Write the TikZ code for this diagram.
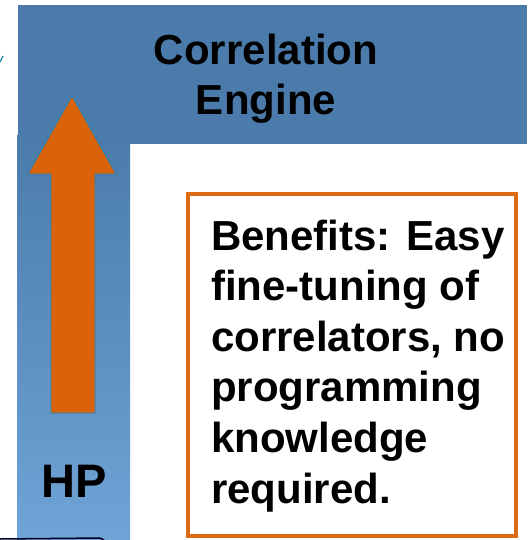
\documentclass[tikz,border=0pt]{standalone}
\usepackage{fontspec}
\setmainfont{Liberation Sans}
\begin{document}
\begin{tikzpicture}[x=1pt,y=-1pt,
  blk/.style={font=\bfseries, text=black, inner sep=0pt},
  arrowfill/.style={fill=arrorange, draw=arrowedge, line width=0.8pt},
]
\definecolor{topblue}{HTML}{4A7BAB}
\definecolor{botblue}{HTML}{6FA4D6}
\definecolor{arrorange}{HTML}{D9620A}
\definecolor{arrowedge}{HTML}{1F86B8}
\definecolor{boxorange}{HTML}{DC6A14}
\useasboundingbox (0,0) rectangle (527,540);
% left column with gradient
\shade[top color=topblue, bottom color=botblue] (17,136) rectangle (130,540);
% top bar
\fill[topblue] (18,5) rectangle (527,144);
% small tick at left
\draw[arrowedge, line width=1.2pt] (0,62) -- (3,56);
% bottom dark line
\draw[black!85!blue, line width=1.5pt] (0,539) -- (50,538.5) -- (100,538) -- (104,540);
% arrow
\draw[arrowfill] (51,413) -- (51,174) -- (28,174) -- (72,96) -- (116,174) -- (95,174) -- (95,413) -- cycle;
% title (anchor base = baseline of last line)
\node[blk, align=center, anchor=base, font=\bfseries\fontsize{42}{50}\selectfont] (title) at (266,115) {Correlation\\Engine};
% HP
\node[blk, anchor=base, font=\bfseries\fontsize{47}{50}\selectfont] (hp) at (74,497) {HP};
% benefits box
\draw[boxorange, line width=4pt] (188,194) rectangle (516,536);
\node[blk, align=left, anchor=base west, font=\bfseries\fontsize{42}{50.6}\selectfont] (ben) at (211,503) {Benefits: Easy\\fine-tuning of\\correlators, no\\programming\\knowledge\\required.};
\end{tikzpicture}
\end{document}
